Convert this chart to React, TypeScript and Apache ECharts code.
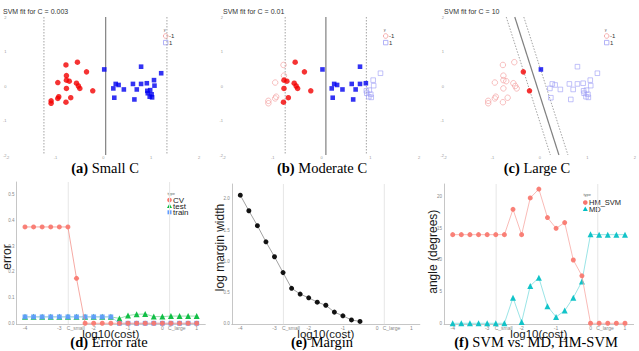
import React, { useEffect, useRef } from 'react';
import * as echarts from 'echarts';

// ---- top row: SVM fits (same points in each panel) ----
const redX = [-0.54, -0.78, -0.35, -0.77, -0.95, -0.77, -0.71, -0.56, -0.52, -0.49, -0.77, -0.22, -0.93, -0.95, -0.68, -1.09, -1.09, -0.78];
const redY = [0.69, 0.61, 0.41, 0.30, 0.10, 0.17, 0.14, 0.08, 0.0, -0.07, -0.07, -0.14, -0.31, -0.36, -0.34, -0.43, -0.50, -0.47];
const blueX = [0.02, 0.79, 1.21, 0.26, 0.32, 0.21, 0.43, 0.62, 0.70, 0.79, 0.91, 1.06, 1.07, 0.92, 0.98, 0.93, 1.01, 1.02, 0.97, 0.23, 0.65];
const blueY = [0.48, 0.56, 0.37, 0.06, 0.03, -0.07, -0.10, 0.06, -0.10, 0.06, 0.08, 0.17, 0.01, -0.14, -0.12, -0.21, -0.24, -0.33, -0.31, -0.34, -0.39];

// support-vector flags (filled symbols) per panel
const redSV_a = [1, 1, 1, 1, 1, 1, 1, 1, 1, 1, 1, 1, 1, 1, 1, 1, 1, 1];
const blueSV_a = [1, 1, 1, 1, 1, 1, 1, 1, 1, 1, 1, 1, 1, 1, 1, 1, 1, 1, 1, 1, 1];
const redSV_b = [1, 0, 1, 0, 0, 1, 1, 1, 1, 1, 1, 1, 0, 0, 1, 0, 0, 1];
const blueSV_b = [1, 1, 0, 1, 1, 1, 1, 1, 1, 1, 1, 0, 0, 0, 0, 0, 0, 0, 0, 1, 1];
const redSV_c = [0, 0, 1, 0, 0, 0, 0, 0, 0, 0, 0, 1, 0, 0, 0, 0, 0, 0];
const blueSV_c = [1, 0, 0, 0, 0, 0, 0, 0, 0, 0, 0, 0, 0, 0, 0, 0, 0, 0, 0, 0, 0];

// boundary lines: x at y=2 and x at y=-2  [solid, lower margin, upper margin]
const boundA = [[0.05, 0.05], [-1.24, -1.24], [1.33, 1.33]];
const boundB = [[0.09, 0.09], [-0.745, -0.745], [0.92, 0.92]];
const boundC = [[-0.53, 0.40], [-0.71, 0.22], [-0.34, 0.59]];

const fitTitles = ['SVM fit for C = 0.003', 'SVM fit for C = 0.01', 'SVM fit for C = 10'];

// ---- bottom row ----
const costX = [-4, -3.75, -3.5, -3.25, -3, -2.75, -2.5, -2.25, -2, -1.75, -1.5, -1.25, -1, -0.75, -0.5, -0.25, 0, 0.25, 0.5, 0.75, 1];
const cvErr = [0.375, 0.375, 0.375, 0.375, 0.375, 0.375, 0.175, 0, 0, 0, 0, 0, 0, 0, 0, 0, 0, 0, 0, 0, 0];
const testErr = [0.025, 0.025, 0.025, 0.025, 0.025, 0.025, 0.025, 0.025, 0.025, 0.025, 0.025, 0.019, 0.030, 0.035, 0.036, 0.026, 0.026, 0.028, 0.028, 0.028, 0.028];
const trainErr = [0.025, 0.025, 0.025, 0.025, 0.025, 0.025, 0.025, 0.025, 0.025, 0.025, 0.025, 0, 0, 0, 0, 0, 0, 0, 0, 0, 0];

const marginX = [-4, -3.75, -3.5, -3.25, -3, -2.75, -2.5, -2.25, -2, -1.75, -1.5, -1.25, -1, -0.75, -0.5];
const logMargin = [2.06, 1.81, 1.57, 1.31, 1.07, 0.815, 0.563, 0.47, 0.41, 0.34, 0.29, 0.18, 0.12, 0.054, 0.03];

const hmSvmAngle = [14, 14, 14, 14, 14, 14, 14, 18, 14, 19.8, 21.2, 16.7, 15, 15.9, 10, 7.5, 0, 0, 0, 0, 0];
const mdAngle = [0, 0, 0, 0, 0, 0, 0, 4.05, 0.2, 5.9, 7.2, 2.7, 1.0, 2.0, 4.05, 6.6, 14.05, 14, 14, 14, 14];

const costTicks = [-4, -3, -2.52, -2, -1, 0, 0.42, 1];
const costTickLabels = ['-4', '-3', 'C_small', '-2', '-1', '0', 'C_large', '1'];
const minorBreaks = [-2.74, 0.21];
const errTicks = [0, 0.1, 0.2, 0.3, 0.4, 0.5];
const marginTicks = [0, 0.5, 1, 1.5, 2];
const angleTicks = [0, 5, 10, 15, 20];

const captions = [
  ['(a)', 'Small C'], ['(b)', 'Moderate C'], ['(c)', 'Large C'],
  ['(d)', 'Error rate'], ['(e)', 'Margin'], ['(f)', 'SVM vs. MD, HM-SVM'],
];

const SANS = 'Liberation Sans, Arial, sans-serif';
const SERIF = 'Liberation Serif, Times New Roman, serif';

function buildOption() {
  const grid: any[] = [];
  const xAxis: any[] = [];
  const yAxis: any[] = [];
  const series: any[] = [];
  const graphic: any[] = [];

  // ---------- top panels ----------
  const topLefts = [4, 224, 445];
  const svSets = [[redSV_a, blueSV_a], [redSV_b, blueSV_b], [redSV_c, blueSV_c]];
  const bounds = [boundA, boundB, boundC];
  for (let p = 0; p < 3; p++) {
    grid.push({ left: topLefts[p], top: 17, width: 195, height: 138 });
    xAxis.push({
      gridIndex: p, type: 'value', min: -2, max: 2, interval: 1,
      axisLine: { show: false, onZero: false }, axisTick: { show: false }, splitLine: { show: false },
      axisLabel: { fontSize: 4, color: '#999', margin: 0, fontFamily: SANS },
    });
    yAxis.push({
      gridIndex: p, type: 'value', min: -2, max: 2, interval: 1,
      axisLine: { show: false, onZero: false }, axisTick: { show: false }, splitLine: { show: false },
      axisLabel: { fontSize: 4, color: '#999', margin: 1, fontFamily: SANS },
    });
    const b = bounds[p];
    b.forEach((ln, k) => {
      series.push({
        type: 'line', xAxisIndex: p, yAxisIndex: p, symbol: 'none', silent: true, z: 1,
        data: [[ln[0], 2], [ln[1], -2]],
        lineStyle: k === 0 ? { color: '#808080', width: 1.2 } : { color: '#8c8c8c', width: 0.8, type: [1.5, 1.5] },
      });
    });
    const [rsv, bsv] = svSets[p];
    const redPts = redX.map((x, i) => [x, redY[i]]);
    const bluePts = blueX.map((x, i) => [x, blueY[i]]);
    series.push({
      type: 'scatter', xAxisIndex: p, yAxisIndex: p, symbol: 'circle', symbolSize: 5.5, z: 2,
      data: redPts.filter((_, i) => !rsv[i]),
      itemStyle: { color: 'rgba(255,255,255,0)', borderColor: '#f29a9a', borderWidth: 0.8 },
    });
    series.push({
      type: 'scatter', xAxisIndex: p, yAxisIndex: p, symbol: 'rect', symbolSize: 4.6, z: 2,
      data: bluePts.filter((_, i) => !bsv[i]),
      itemStyle: { color: 'rgba(255,255,255,0)', borderColor: '#9f9ff5', borderWidth: 0.8 },
    });
    series.push({
      type: 'scatter', xAxisIndex: p, yAxisIndex: p, symbol: 'circle', symbolSize: 5.5, z: 3,
      data: redPts.filter((_, i) => rsv[i]),
      itemStyle: { color: '#f20000' },
    });
    series.push({
      type: 'scatter', xAxisIndex: p, yAxisIndex: p, symbol: 'rect', symbolSize: 4.6, z: 3,
      data: bluePts.filter((_, i) => bsv[i]),
      itemStyle: { color: '#0000f0' },
    });

    // title
    graphic.push({
      type: 'text', x: topLefts[p] - 1, y: 11.7,
      style: { text: fitTitles[p], fontSize: 7, fontFamily: SANS, fill: '#333', align: 'left', verticalAlign: 'middle' },
    });
    // legend
    const ox = topLefts[p] + 161.7;
    graphic.push({ type: 'text', x: ox - 2, y: 29.5, style: { text: 'y', fontSize: 4, fontFamily: SANS, fill: '#666', align: 'left', verticalAlign: 'middle' } });
    graphic.push({ type: 'circle', shape: { cx: ox, cy: 36, r: 2.3 }, style: { fill: 'none', stroke: '#f29a9a', lineWidth: 0.8 } });
    graphic.push({ type: 'text', x: ox + 3.2, y: 36, style: { text: '-1', fontSize: 6, fontFamily: SANS, fill: '#333', align: 'left', verticalAlign: 'middle' } });
    graphic.push({ type: 'rect', shape: { x: ox - 2.2, y: 40.4, width: 4.4, height: 4.4 }, style: { fill: 'none', stroke: '#9f9ff5', lineWidth: 0.8 } });
    graphic.push({ type: 'text', x: ox + 3.2, y: 42.6, style: { text: '1', fontSize: 6, fontFamily: SANS, fill: '#333', align: 'left', verticalAlign: 'middle' } });
  }

  // ---------- bottom panels ----------
  const bot = [
    { left: 16.4, width: 188.9, top: 182, ymin: -0.004, ymax: 0.55, ticks: errTicks, fmt: (v: number) => v.toFixed(1) },
    { left: 231.75, width: 188.1, top: 184, ymin: -0.016, ymax: 2.24, ticks: marginTicks, fmt: (v: number) => v.toFixed(1) },
    { left: 444.1, width: 189.5, top: 184, ymin: -0.16, ymax: 22.0, ticks: angleTicks, fmt: (v: number) => String(v) },
  ];
  bot.forEach((g, j) => {
    const gi = 3 + j;
    grid.push({ left: g.left, top: g.top, width: g.width, height: 324.3 - g.top });
    xAxis.push({
      gridIndex: gi, type: 'value', min: -4.25, max: 1.25,
      axisLine: { show: true, onZero: false, lineStyle: { color: '#b8b8b8', width: 0.8 } },
      axisTick: { show: false, customValues: costTicks }, splitLine: { show: false },
      axisLabel: {
        customValues: costTicks, fontSize: 5, color: '#888', margin: 0.8, fontFamily: SANS,
        formatter: (v: number) => {
          const k = costTicks.findIndex((t) => Math.abs(t - v) < 1e-6);
          return k >= 0 ? costTickLabels[k] : '';
        },
      },
    });
    yAxis.push({
      gridIndex: gi, type: 'value', min: g.ymin, max: g.ymax,
      axisLine: { show: true, onZero: false, lineStyle: { color: '#b8b8b8', width: 0.8 } },
      axisTick: { show: false, customValues: g.ticks }, splitLine: { show: false },
      axisLabel: { customValues: g.ticks, fontSize: 4.5, color: '#888', margin: 2, fontFamily: SANS, formatter: g.fmt },
    });
    minorBreaks.forEach((mb) => {
      series.push({
        type: 'line', xAxisIndex: gi, yAxisIndex: gi, symbol: 'none', silent: true, z: 0,
        data: [[mb, g.ymin], [mb, g.ymax]], lineStyle: { color: '#e6e6e6', width: 1 },
      });
    });
  });

  const lineSeries = (gi: number, xs: number[], ys: number[], color: string, lineColor: string, symbol: string, size: number, z: number) => ({
    type: 'line', xAxisIndex: gi, yAxisIndex: gi, symbol, symbolSize: size, z,
    data: xs.map((x, i) => [x, ys[i]]),
    itemStyle: { color, opacity: 0.92 },
    lineStyle: { color: lineColor, width: 0.8 },
  });

  series.push(lineSeries(3, costX, testErr, '#00BA38', '#7fd89a', 'triangle', 6, 3));
  series.push(lineSeries(3, costX, trainErr, '#619CFF', '#a9c8ff', 'rect', 4.8, 4));
  series.push(lineSeries(3, costX, cvErr, '#F8766D', '#f4948d', 'circle', 5, 5));

  series.push(lineSeries(4, marginX, logMargin, '#000000', '#8a8a8a', 'circle', 5, 3));

  series.push(lineSeries(5, costX, mdAngle, '#00BFC4', '#80dde0', 'triangle', 6, 3));
  series.push(lineSeries(5, costX, hmSvmAngle, '#F8766D', '#f7aaa5', 'circle', 5, 4));

  // bottom legends
  const legText = (x: number, y: number, t: string, size = 8) => ({
    type: 'text', x, y, style: { text: t, fontSize: size, fontFamily: SANS, fill: '#222', align: 'left', verticalAlign: 'middle' },
  });
  graphic.push({ type: 'text', x: 167.5, y: 193.5, style: { text: 'type', fontSize: 4, fontFamily: SANS, fill: '#666', align: 'left', verticalAlign: 'middle' } });
  graphic.push({ type: 'circle', shape: { cx: 169.5, cy: 200, r: 2.3 }, style: { fill: '#F8766D' } });
  graphic.push(legText(173, 200, 'CV'));
  graphic.push({ type: 'polygon', shape: { points: [[169.5, 203.6], [172, 208], [167, 208]] }, style: { fill: '#00BA38' } });
  graphic.push(legText(173, 206.2, 'test'));
  graphic.push({ type: 'rect', shape: { x: 167.5, y: 210.3, width: 4, height: 4 }, style: { fill: '#619CFF' } });
  graphic.push(legText(173, 212.3, 'train'));

  graphic.push({ type: 'text', x: 583.5, y: 194.5, style: { text: 'type', fontSize: 4, fontFamily: SANS, fill: '#666', align: 'left', verticalAlign: 'middle' } });
  graphic.push({ type: 'circle', shape: { cx: 585.3, cy: 202.6, r: 2.3 }, style: { fill: '#F8766D' } });
  graphic.push(legText(589, 202.6, 'HM_SVM', 7.5));
  graphic.push({ type: 'polygon', shape: { points: [[585.3, 206.6], [587.8, 211], [582.8, 211]] }, style: { fill: '#00BFC4' } });
  graphic.push(legText(589, 209, 'MD', 7.5));

  // axis titles
  const yTitle = (x: number, y: number, t: string) => ({
    type: 'text', x, y, rotation: Math.PI / 2,
    style: { text: t, fontSize: 12, fontFamily: SANS, fill: '#1a1a1a', align: 'center', verticalAlign: 'middle' },
  });
  graphic.push(yTitle(7, 257, 'error'));
  graphic.push(yTitle(219.5, 247.5, 'log margin width'));
  graphic.push(yTitle(432.5, 251.7, 'angle (degrees)'));
  [110.8, 325.8, 538.8].forEach((cx) => {
    graphic.push({
      type: 'text', x: cx, y: 334,
      style: { text: 'log10(cost)', fontSize: 11.5, fontFamily: SANS, fill: '#1a1a1a', align: 'center', verticalAlign: 'middle' },
    });
  });

  // captions
  const capPos = [[105, 168], [322, 168], [537, 168], [109, 342], [322, 342], [536, 342]];
  captions.forEach((c, i) => {
    graphic.push({
      type: 'text', x: capPos[i][0], y: capPos[i][1], z: 100,
      style: {
        text: '{b|' + c[0] + '} ' + c[1], fontSize: 14.5, fontFamily: SERIF, fill: '#000',
        align: 'center', verticalAlign: 'middle',
        rich: { b: { fontSize: 14.5, fontFamily: SERIF, fontWeight: 'bold', fill: '#000' } },
      },
    });
  });

  return { animation: false, backgroundColor: '#ffffff', grid, xAxis, yAxis, series, graphic };
}

export default function App() {
  const ref = useRef<HTMLDivElement>(null);
  useEffect(() => {
    const chart = echarts.init(ref.current!, null, { renderer: 'svg' });
    chart.setOption(buildOption() as any);
    return () => chart.dispose();
  }, []);
  return <div ref={ref} style={{ position: 'absolute', left: 0, top: 0, width: 639, height: 351 }} />;
}
